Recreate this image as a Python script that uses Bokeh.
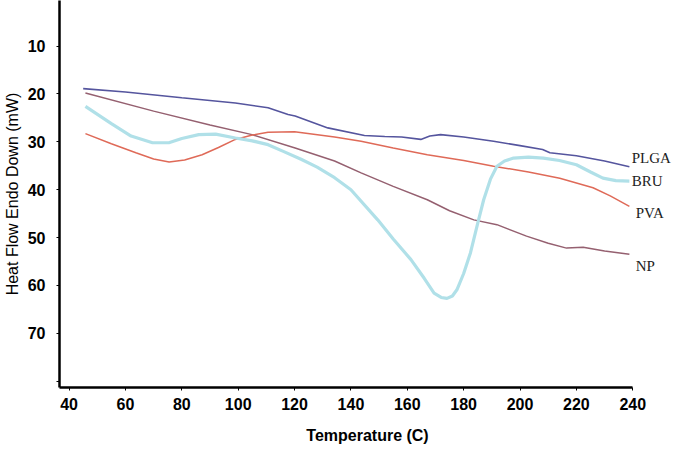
from bokeh.plotting import figure
from bokeh.models import Range1d, FixedTicker, Label
from bokeh.embed import file_html
from bokeh.resources import INLINE

# PLGA
plga_x = [45, 60, 80, 99, 110.6, 117.7, 120.2, 131.8, 144.8, 152, 158, 164.8, 168, 171.8, 180, 190.6, 200, 208, 210.6, 220, 230, 238.8]
plga_y = [18.9, 19.6, 20.8, 21.9, 22.9, 24.3, 24.6, 27.1, 28.7, 28.9, 29.0, 29.5, 28.8, 28.5, 29.0, 29.9, 30.8, 31.6, 32.3, 32.9, 34.0, 35.2]

# BRU
bru_x = [45.8, 55, 62, 69.6, 75.4, 80, 86, 92, 99, 105, 110.6, 116, 122.5, 128, 134.2, 140, 149.5, 155, 161.3, 166, 169.5, 172, 174.1, 176, 177.6, 180, 182.4, 185, 187.1, 189.5, 191.8, 194.5, 197.7, 203, 208.3, 214, 220, 225, 229.4, 234, 238.8]
bru_y = [22.6, 26.2, 28.8, 30.2, 30.2, 29.3, 28.5, 28.4, 29.2, 29.8, 30.6, 32.0, 33.7, 35.3, 37.5, 40.0, 46.3, 50.3, 54.6, 58.5, 61.6, 62.5, 62.7, 62.2, 60.9, 57.5, 53.2, 47.0, 42.1, 37.8, 35.1, 34.0, 33.4, 33.2, 33.4, 33.9, 34.8, 36.3, 37.6, 38.1, 38.2]

# PVA
pva_x = [45.8, 55, 63.7, 70, 75.5, 81, 87.2, 93, 99, 105, 110.6, 120, 134.2, 143.6, 155, 167.1, 180, 190.6, 203, 214.1, 225.9, 232, 238.8]
pva_y = [28.3, 30.4, 32.3, 33.6, 34.2, 33.8, 32.7, 31.2, 29.5, 28.6, 28.0, 27.9, 29.0, 29.9, 31.3, 32.7, 33.9, 35.1, 36.3, 37.6, 39.6, 41.3, 43.5]

# NP
np_x = [45.8, 70, 90, 104.9, 120.2, 134.2, 143.6, 155, 167.1, 175, 183.6, 191.8, 202.3, 210, 216.5, 222.4, 230, 238.8]
np_y = [19.8, 23.6, 26.5, 28.5, 31.3, 34.0, 36.5, 39.3, 42.1, 44.4, 46.3, 47.3, 49.7, 51.2, 52.2, 52.0, 52.8, 53.5]

series_labels = ["PLGA", "BRU", "PVA", "NP"]

x_ticks = [40, 60, 80, 100, 120, 140, 160, 180, 200, 220, 240]
y_ticks = [0, 10, 20, 30, 40, 50, 60, 70, 80]
y_tick_labels = {0: "", 10: "10", 20: "20", 30: "30", 40: "40", 50: "50", 60: "60", 70: "70", 80: ""}

W, H = 675, 447
LEFT = 55
X0, X1 = 36.6, 240
px_per_unit = 577 / (X1 - X0)
frame_w = W - LEFT
x_end = X0 + frame_w / px_per_unit

p = figure(width=W, height=H, output_backend="svg", toolbar_location=None,
           x_range=Range1d(X0, x_end), y_range=Range1d(81.3, 0.5),
           min_border_left=LEFT, min_border_right=0, min_border_top=0, min_border_bottom=60)

p.outline_line_color = None
p.grid.grid_line_color = None
p.background_fill_color = "white"

p.line(np_x, np_y, line_color="#956070", line_width=1.5)
p.line(pva_x, pva_y, line_color="#df6a58", line_width=1.5)
p.line(bru_x, bru_y, line_color="#b0e0e8", line_width=3.2)
p.line(plga_x, plga_y, line_color="#55559e", line_width=1.6)

for ax in (p.xaxis[0], p.yaxis[0]):
    ax.axis_line_width = 2.5
    ax.axis_line_color = "black"
    ax.major_tick_line_color = "black"
    ax.major_tick_line_width = 1
    ax.minor_tick_line_color = None
    ax.major_tick_in = 0
    ax.major_tick_out = 3
    ax.major_label_text_font = "Liberation Sans"
    ax.major_label_text_font_style = "bold"
    ax.major_label_text_font_size = "16px"
    ax.major_label_text_color = "black"
    ax.axis_label_text_font = "Liberation Sans"
    ax.axis_label_text_color = "black"
    ax.axis_label_text_font_size = "16px"

p.xaxis[0].bounds = (X0, X1)
p.xaxis[0].ticker = FixedTicker(ticks=x_ticks)
p.xaxis[0].major_label_standoff = 7
p.xaxis[0].axis_label = "Temperature (C)"
p.xaxis[0].axis_label_text_font_style = "bold"
p.xaxis[0].axis_label_standoff = 14

p.yaxis[0].ticker = FixedTicker(ticks=y_ticks)
p.yaxis[0].major_label_overrides = y_tick_labels
p.yaxis[0].major_label_standoff = 11
p.yaxis[0].axis_label = "Heat Flow Endo Down (mW)"
p.yaxis[0].axis_label_text_font_style = "normal"
p.yaxis[0].axis_label_standoff = 4

for txt, yv, dx in zip(series_labels, [33.4, 38.2, 44.9, 56.0], [-1, -1, 3, 3]):
    p.add_layout(Label(x=X1, y=yv, x_offset=dx, text=txt, text_font="Liberation Serif",
                       text_font_size="15px", text_color="#222222", text_baseline="middle",
                       text_align="left"))

open("out.html", "w").write(file_html(p, INLINE))
